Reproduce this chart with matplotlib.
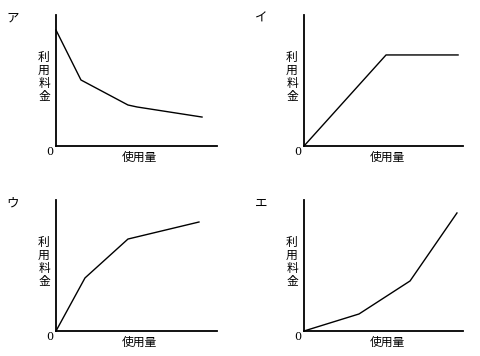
import matplotlib
matplotlib.use("Agg")
import matplotlib.pyplot as plt

plt.rcParams['font.family'] = ['Noto Sans CJK JP', 'DejaVu Sans']

# 各グラフの折れ線 (使用量, 利用料金)  ※軸の長さを100とした目盛り
panel_labels = ["ア", "イ", "ウ", "エ"]
a_x = [0, 15.5, 44.7, 50.3, 90.7]
a_y = [88.5, 50.4, 31.3, 29.8, 22.1]
i_x = [0, 51.6, 96.9]
i_y = [0, 69.5, 69.5]
u_x = [0, 18.0, 44.7, 88.8]
u_y = [0, 40.5, 70.2, 83.2]
e_x = [0, 34.6, 66.7, 96.2]
e_y = [0, 13.0, 38.2, 90.1]
series = [(a_x, a_y), (i_x, i_y), (u_x, u_y), (e_x, e_y)]

ylabel = "利\n用\n料\n金"
xlabel = "使用量"

W, H = 480, 356
fig = plt.figure(figsize=(W / 100, H / 100), dpi=100)

# 軸の位置 (px): left, right, top, bottom
boxes = [(56, 217, 15, 146), (304, 463, 15, 146),
         (56, 217, 200, 331), (304, 463, 200, 331)]

for (l, r, t, b), (xs, ys), lab in zip(boxes, series, panel_labels):
    ax = fig.add_axes([l / W, 1 - b / H, (r - l) / W, (b - t) / H])
    ax.plot(xs, ys, color="black", lw=1.0, clip_on=False)
    ax.set_xlim(0, 100)
    ax.set_ylim(0, 100)
    for s in ["top", "right"]:
        ax.spines[s].set_visible(False)
    for s in ["left", "bottom"]:
        ax.spines[s].set_linewidth(1.3)
    ax.set_xticks([])
    ax.set_yticks([])
    ax.patch.set_alpha(0)

    # ラベル
    fig.text((l - 12) / W, 1 - (t + 62) / H, ylabel, ha="center", va="center",
             fontsize=8.5, linespacing=0.98)
    fig.text((l - 6) / W, 1 - (b + 6) / H, "0", ha="center", va="center", fontsize=8,
             family="DejaVu Serif")
    fig.text((l + 83) / W, 1 - (b + 11) / H, xlabel, ha="center", va="center", fontsize=8.5)
    fig.text((l - 43) / W, 1 - (t + 3) / H, lab, ha="center", va="center", fontsize=9)

fig.savefig("out.png", dpi=100, facecolor="white")
